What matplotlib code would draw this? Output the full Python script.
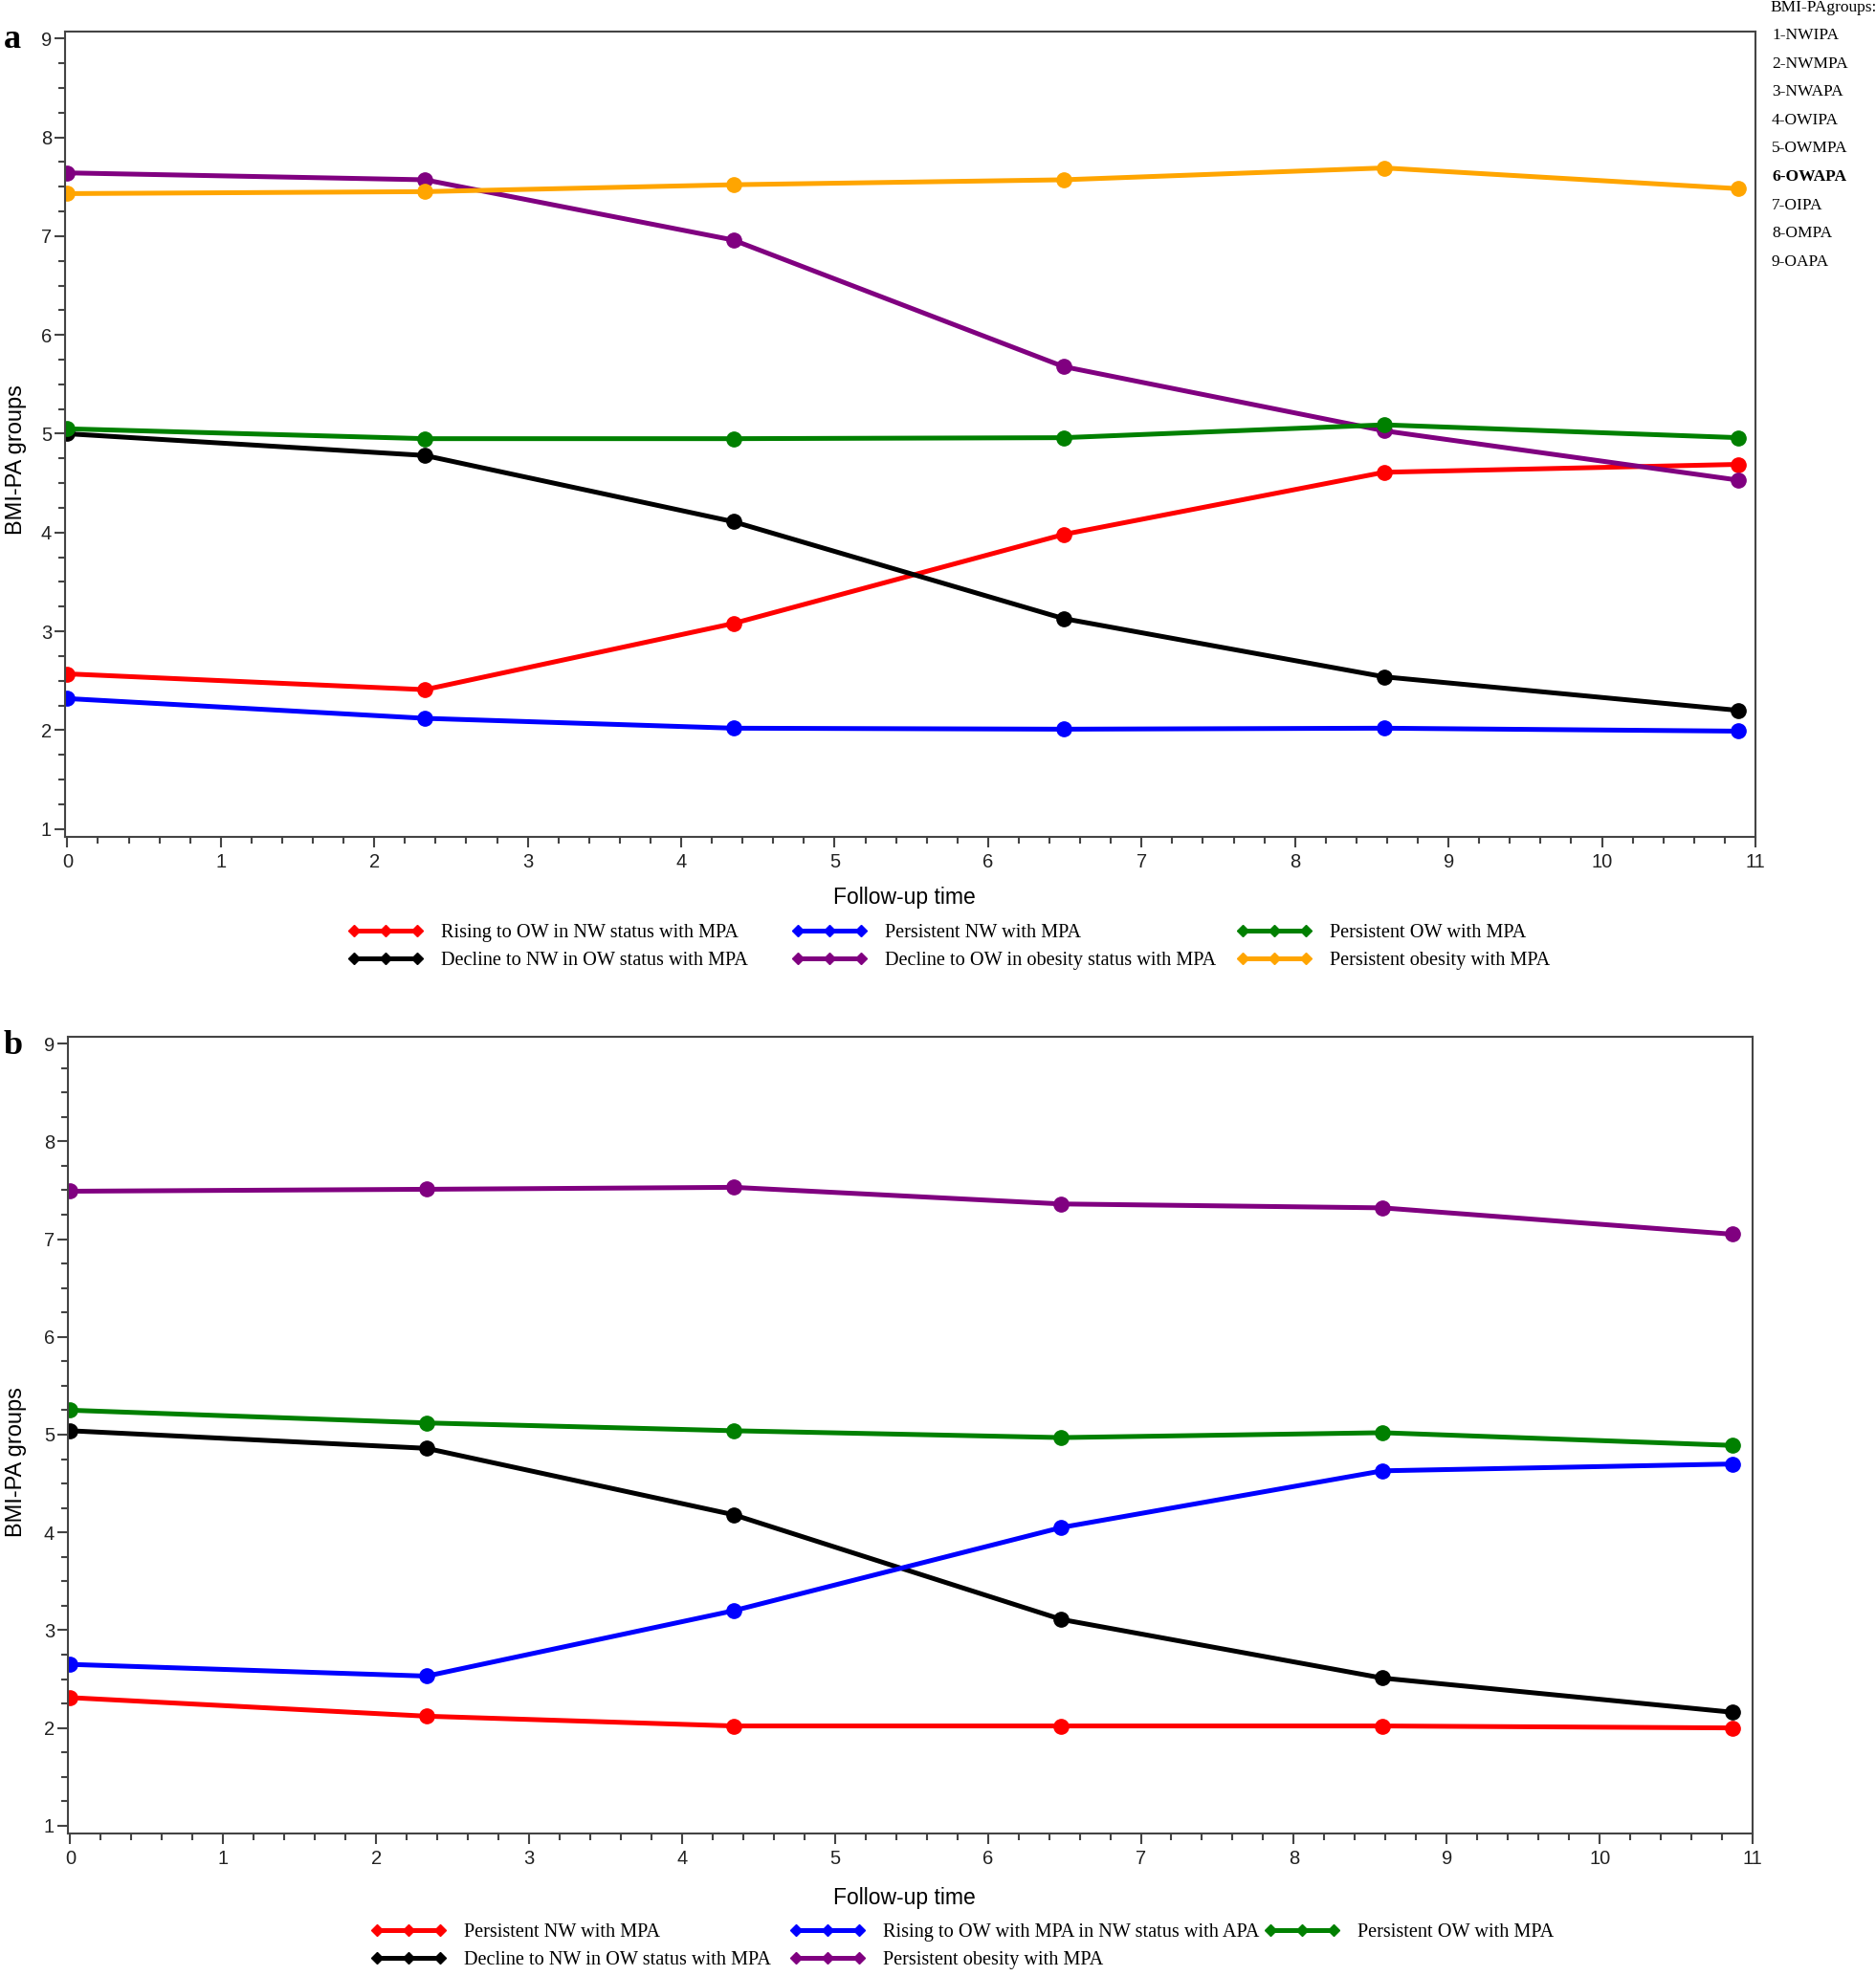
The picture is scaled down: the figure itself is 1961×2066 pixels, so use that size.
import matplotlib
matplotlib.use("Agg")
import matplotlib.pyplot as plt
from matplotlib.ticker import MultipleLocator
from matplotlib.lines import Line2D

# follow-up time points (years)
time_a = [0, 2.33, 4.34, 6.49, 8.58, 10.89]
time_b = [0, 2.33, 4.34, 6.48, 8.58, 10.87]

# panel a trajectories
a_rising_ow = [2.57, 2.41, 3.08, 3.98, 4.61, 4.69]
a_persist_nw = [2.32, 2.12, 2.02, 2.01, 2.02, 1.99]
a_persist_ow = [5.05, 4.95, 4.95, 4.96, 5.09, 4.96]
a_decline_nw = [5.00, 4.78, 4.11, 3.13, 2.54, 2.20]
a_decline_ow = [7.64, 7.57, 6.96, 5.68, 5.03, 4.53]
a_persist_ob = [7.43, 7.45, 7.52, 7.57, 7.69, 7.48]

# panel b trajectories
b_persist_nw = [2.31, 2.12, 2.02, 2.02, 2.02, 2.00]
b_rising_ow = [2.65, 2.53, 3.20, 4.05, 4.63, 4.70]
b_persist_ow = [5.25, 5.12, 5.04, 4.97, 5.02, 4.89]
b_decline_nw = [5.04, 4.86, 4.18, 3.11, 2.51, 2.16]
b_persist_ob = [7.49, 7.51, 7.53, 7.36, 7.32, 7.05]

groups = ["1-NWIPA", "2-NWMPA", "3-NWAPA", "4-OWIPA", "5-OWMPA",
          "6-OWAPA", "7-OIPA", "8-OMPA", "9-OAPA"]

series_a = [
    ("Rising to OW in NW status with MPA", a_rising_ow, "red"),
    ("Decline to NW in OW status with MPA", a_decline_nw, "black"),
    ("Persistent NW with MPA", a_persist_nw, "blue"),
    ("Decline to OW in obesity status with MPA", a_decline_ow, "purple"),
    ("Persistent OW with MPA", a_persist_ow, "green"),
    ("Persistent obesity with MPA", a_persist_ob, "orange"),
]
series_b = [
    ("Persistent NW with MPA", b_persist_nw, "red"),
    ("Decline to NW in OW status with MPA", b_decline_nw, "black"),
    ("Rising to OW with MPA in NW status with APA", b_rising_ow, "blue"),
    ("Persistent obesity with MPA", b_persist_ob, "purple"),
    ("Persistent OW with MPA", b_persist_ow, "green"),
]

W, H = 1961, 2066
fig = plt.figure(figsize=(W / 100, H / 100), dpi=100)

SANS = "Liberation Sans"
SERIF = "Liberation Serif"
SPINE = "#444444"


def px(x, y):
    return x / W, 1 - y / H


def draw_panel(rect, t, series, letter, letter_xy, ylab_xy, xlab_xy, leg_cols):
    ax = fig.add_axes(rect)
    for lab, vals, col in series:
        ax.plot(t, vals, color=col, lw=3.6, marker="o", ms=11, label=lab,
                solid_joinstyle="round")
    ax.set_xlim(-0.015, 11.0)
    ax.set_ylim(0.92, 9.07)
    ax.xaxis.set_major_locator(MultipleLocator(1))
    ax.xaxis.set_minor_locator(MultipleLocator(0.2))
    ax.yaxis.set_major_locator(MultipleLocator(1))
    ax.yaxis.set_minor_locator(MultipleLocator(0.25))
    ax.tick_params(which="both", direction="out", colors=SPINE, width=1.5,
                   top=False, right=False)
    ax.tick_params(which="major", length=8, labelsize=14.5,
                   labelcolor="#222222")
    ax.tick_params(axis="x", which="major", pad=4.5)
    ax.tick_params(axis="y", which="major", pad=2)
    ax.tick_params(which="minor", length=5)
    for lbl in ax.get_xticklabels() + ax.get_yticklabels():
        lbl.set_family(SANS)
    for s in ax.spines.values():
        s.set_color(SPINE)
        s.set_linewidth(1.5)

    fig.text(*px(*letter_xy), letter, fontsize=26, fontweight="bold",
             family=SERIF, ha="left", va="center")
    fig.text(*px(*ylab_xy), "BMI-PA groups", fontsize=17, family=SANS,
             rotation=90, ha="center", va="center")
    fig.text(*px(*xlab_xy), "Follow-up time", fontsize=16.5, family=SANS,
             ha="center", va="center")

    # legend: one block per column, two rows each
    for (x0, y0), items in leg_cols:
        handles = [Line2D([], [], color=col, lw=3.6, marker="D", ms=6)
                   for _, _, col in items]
        labels = [lab for lab, _, _ in items]
        fig.legend(handles, labels, loc="upper left",
                   bbox_to_anchor=px(x0, y0), frameon=False,
                   prop={"family": SERIF, "size": 14.6}, numpoints=3,
                   handlelength=3.85, handletextpad=0.95,
                   labelspacing=0.47, borderaxespad=0, borderpad=0)
    return ax


ax_a = draw_panel([68 / W, 1 - 875 / H, (1835 - 68) / W, 842 / H],
                  time_a, series_a, "a", (4, 42), (17, 481), (945, 938),
                  [((364, 966), series_a[0:2]),
                   ((828, 966), series_a[2:4]),
                   ((1293, 966), series_a[4:6])])

ax_b = draw_panel([71 / W, 1 - 1917 / H, (1832 - 71) / W, 833 / H],
                  time_b, series_b, "b", (4, 1094), (17, 1529), (945, 1985),
                  [((388, 2011), series_b[0:2]),
                   ((826, 2011), series_b[2:4]),
                   ((1322, 2011), series_b[4:5])])

# group key at top right
fig.text(*px(1850, 8), "BMI-PAgroups:", fontsize=12.5, family=SERIF,
         ha="left", va="center")
for i, g in enumerate(groups):
    fig.text(*px(1852, 37 + i * 29.6), g, fontsize=12.5, family=SERIF,
             ha="left", va="center",
             fontweight="bold" if g.startswith("6-") else "normal")

fig.savefig("out.png", dpi=100, facecolor="white")
